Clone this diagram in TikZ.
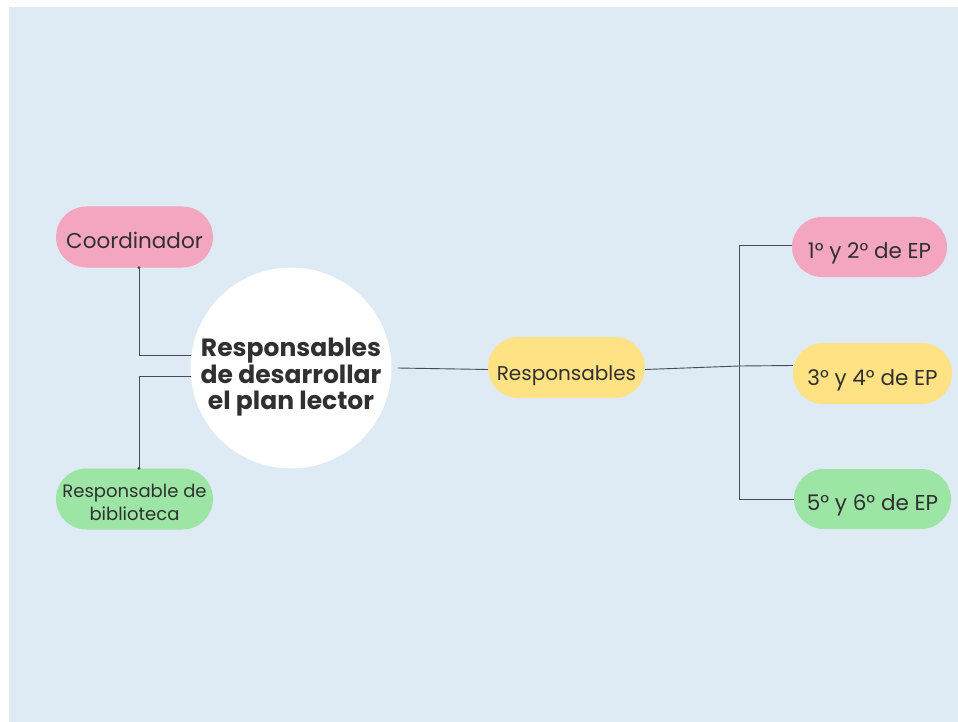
\documentclass[tikz,border=0pt]{standalone}
\usepackage{fontspec}
\setmainfont{Poppins}
\usetikzlibrary{shapes.misc}
\definecolor{bg}{RGB}{222,234,244}
\definecolor{pinkc}{RGB}{244,166,193}
\definecolor{yellowc}{RGB}{255,226,131}
\definecolor{greenc}{RGB}{157,229,165}
\definecolor{txt}{RGB}{48,48,48}
\definecolor{linec}{RGB}{70,76,82}
\begin{document}
\begin{tikzpicture}[x=1pt,y=-1pt,
  pill/.style={rounded rectangle, minimum width=157pt, minimum height=61pt,
    inner sep=0pt, text=txt, text height=24pt, text depth=2pt},
  ptext/.style={font=\fontsize{21.5}{25}\selectfont},
  conn/.style={draw=linec, line width=0.9pt},
  dotc/.style={fill=linec}]
\useasboundingbox (0,0) rectangle (958,722);
\fill[white] (0,0) rectangle (958,722);
\fill[bg] (9,7) rectangle (958,722);

\node[pill, fill=pinkc, ptext] (coord) at (134.5,237) {Coordinador};
\node[pill, fill=greenc, font=\fontsize{18}{23}\selectfont, text height=25pt, text depth=6pt] (bib) at (134.5,499)
  {\begin{tabular}{@{}c@{}}Responsable de\\biblioteca\end{tabular}};
\node[circle, fill=white, minimum size=201pt, inner sep=0pt, text=txt,
  text height=50pt, text depth=18pt,
  font=\fontsize{25}{26}\selectfont\bfseries] (center) at (291,368)
  {\begin{tabular}{@{}c@{}}Responsables\\de desarrollar\\el plan lector\end{tabular}};
\node[pill, fill=yellowc, font=\fontsize{20}{24}\selectfont, text height=25pt, text depth=0pt] (resp) at (566.5,367.5) {Responsables};
\node[pill, fill=pinkc, minimum width=155pt, minimum height=60pt, ptext] (ep12) at (869.5,247) {1° y 2° de EP};
\node[pill, fill=yellowc, minimum width=159pt, ptext, text height=25pt, text depth=2pt] (ep34) at (872.5,373.5) {3° y 4° de EP};
\node[pill, fill=greenc, minimum width=157pt, minimum height=60pt, ptext] (ep56) at (872.5,499) {5° y 6° de EP};

\coordinate (hub) at (739,366);
\coordinate (cbot) at ([xshift=4.5pt]coord.south);
\coordinate (btop) at ([xshift=4.5pt]bib.north);

\draw[conn] (cbot) |- (center.173);
\draw[conn] (center.185) -| (btop);
\fill[dotc] (cbot) circle (1.6pt);
\fill[dotc] (btop) circle (1.6pt);

\draw[conn] ([xshift=6pt]center.east) -- ([yshift=-2pt]resp.west);
\draw[conn] ([yshift=-2pt]resp.east) -- (hub) -- ([yshift=8pt]ep34.west);
\draw[conn] ([yshift=2pt]ep12.west) -| (hub) |- (ep56.west);
\end{tikzpicture}
\end{document}
